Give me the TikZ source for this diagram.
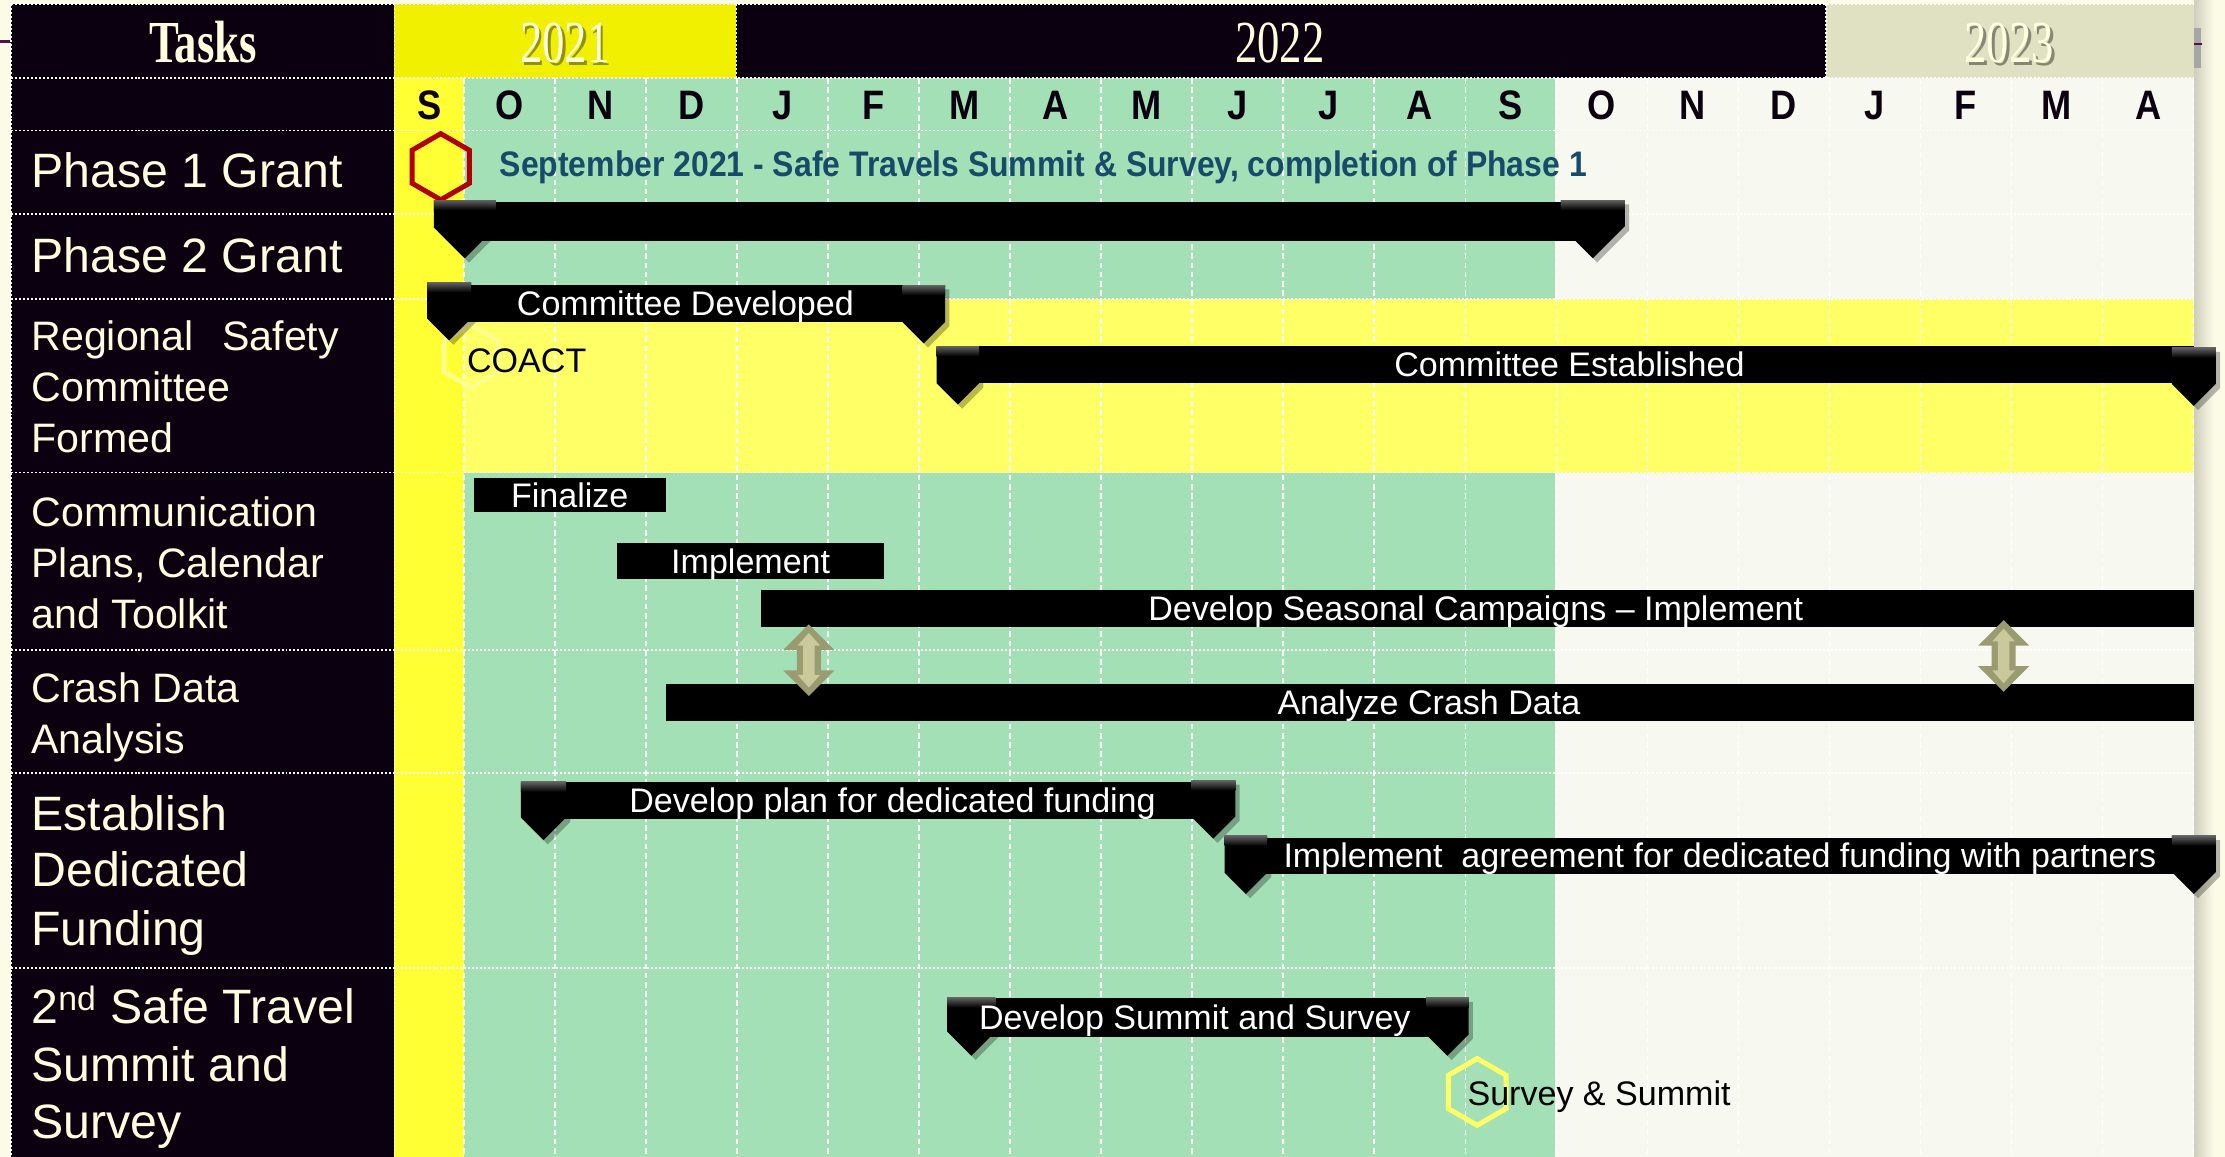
\documentclass[tikz,border=0pt]{standalone}
\usepackage{fontspec}
\setmainfont{Liberation Sans}
\newfontfamily\yearfont{Liberation Serif}

\definecolor{pagebg}{RGB}{251,251,230}
\definecolor{taskbg}{RGB}{10,0,16}
\definecolor{yrone}{RGB}{240,240,0}
\definecolor{yrthree}{RGB}{224,224,194}
\definecolor{scol}{RGB}{255,255,51}
\definecolor{regrow}{RGB}{255,255,102}
\definecolor{gantgreen}{RGB}{163,224,181}
\definecolor{offwhite}{RGB}{247,248,240}
\definecolor{creamtxt}{RGB}{255,255,224}
\definecolor{ink}{RGB}{10,0,16}
\definecolor{noteblue}{RGB}{24,74,106}
\definecolor{olivedark}{RGB}{155,155,114}
\definecolor{olivelight}{RGB}{201,201,155}
\definecolor{hexred}{RGB}{176,0,0}
\definecolor{hexyellow}{RGB}{255,255,102}
\definecolor{edgepurple}{RGB}{80,20,70}

\tikzset{
  hgrid/.style={white, line width=1.3pt, dash pattern=on 1.4pt off 1.4pt},
  vgrid/.style={white, line width=1.2pt, dash pattern=on 4pt off 2.5pt},
  month/.style={anchor=base, inner sep=0pt, text=ink, font=\fontsize{29}{30}\selectfont\bfseries, xscale=.88},
  yearlbl/.style={anchor=base, inner sep=0pt, text=creamtxt, font=\yearfont\fontsize{42}{46}\selectfont, xscale=.75},
  yearshadow/.style={yearlbl, text=black, opacity=.4},
  tasklbl/.style={anchor=base west, inner sep=0pt, text=creamtxt},
  tasklg/.style={tasklbl, font=\fontsize{34}{40}\selectfont},
  tasksm/.style={tasklbl, font=\fontsize{29}{34}\selectfont},
  barlbl/.style={anchor=base, inner sep=0pt, text=white, font=\fontsize{24}{28}\selectfont},
  plainlbl/.style={anchor=base west, inner sep=0pt, text=black, font=\fontsize{24}{28}\selectfont},
  bar/.style={fill=black},
  hexring/.style={line width=3.5pt, line join=miter},
}

% milestone flag: centre x, top y, width
\newcommand\milestone[3]{%
  \pgfmathsetmacro\mhw{#3/2}%
  \pgfmathsetmacro\mleft{#1-\mhw}%
  \pgfmathsetmacro\mright{#1+\mhw}%
  \pgfmathsetmacro\mside{#2+41-\mhw}%
  \pgfmathsetmacro\mtip{#2+41}%
  \fill[black, opacity=.28] ({\mleft+3},{#2+3}) -- ({\mright+3},{#2+3}) -- ({\mright+3},{\mside+3})
      -- ({#1+3},{\mtip+3}) -- ({\mleft+3},{\mside+3}) -- cycle;
  \fill[black] (\mleft,#2) -- (\mright,#2) -- (\mright,\mside) -- (#1,\mtip) -- (\mleft,\mside) -- cycle;
  \shade[top color=black!62, bottom color=black] (\mleft,#2) rectangle (\mright,{#2+7});
}

% two-headed olive arrow: centre x, top y, bottom y
\newcommand\dblarrow[3]{%
  \fill[olivedark] (#1,#2) -- ({#1+18},{#2+18}) -- ({#1+8.5},{#2+18}) -- ({#1+8.5},{#3-18})
     -- ({#1+18},{#3-18}) -- (#1,#3) -- ({#1-18},{#3-18}) -- ({#1-8.5},{#3-18})
     -- ({#1-8.5},{#2+18}) -- ({#1-18},{#2+18}) -- cycle;
  \fill[olivelight] (#1,{#2+6}) -- ({#1+8},{#2+15}) -- ({#1+4},{#2+15}) -- ({#1+4},{#3-15})
     -- ({#1+8},{#3-15}) -- (#1,{#3-6}) -- ({#1-8},{#3-15}) -- ({#1-4},{#3-15})
     -- ({#1-4},{#2+15}) -- ({#1-8},{#2+15}) -- cycle;
}

\begin{document}
\begin{tikzpicture}[x=1pt, y=-1pt]
\useasboundingbox (0,0) rectangle (1568,815);
\fill[pagebg] (0,0) rectangle (1568,815);
\shade[left color=black!18!pagebg, right color=pagebg] (1546,0) rectangle (1560,815);

\def\xs{327}
\def\cw{64.15}

% ---- backgrounds ----
\fill[taskbg] (8,3) rectangle (278,815);
\fill[yrone] (278,3) rectangle (519,55);
\fill[taskbg] (519,3) rectangle (1287,55);
\fill[yrthree] (1287,3) rectangle (1546,55);
\fill[scol] (278,55) rectangle (327,815);
\fill[gantgreen] (327,55) rectangle (1096,815);
\fill[offwhite] (1096,55) rectangle (1546,815);
\fill[regrow] (327,211) rectangle (1546,333);

% small edge marks
\draw[edgepurple, line width=2pt] (0,29) -- (8,29);
\fill[black!35] (1546,20) rectangle (1551,48);
\draw[edgepurple, line width=2pt] (1546,31) -- (1552,31);

% ---- grid ----
\foreach \k in {0,...,19}
  \draw[vgrid] ({\xs+\k*\cw},55) -- ({\xs+\k*\cw},815);
\foreach \y in {3,55,92,151,211,333,458,545,682}
  \draw[hgrid] (8,\y) -- (1546,\y);
\draw[hgrid] (8,3) -- (8,815);
\draw[hgrid] (278,3) -- (278,815);
\draw[hgrid] (519,3) -- (519,55);
\draw[hgrid] (1287,3) -- (1287,55);

% ---- header ----
\node[yearlbl, font=\yearfont\bfseries\fontsize{42}{46}\selectfont] (tasks) at (143,44) {Tasks};
\node[yearshadow] (y21s) at (400,46) {2021};
\node[yearlbl] (y21) at (398,44) {2021};
\node[yearlbl] (y22) at (902,44) {2022};
\node[yearshadow] (y23s) at (1418,46) {2023};
\node[yearlbl] (y23) at (1416,44) {2023};

\node[month] (mS) at (302.5,84) {S};
\foreach \m [count=\i from 0] in {O,N,D,J,F,M,A,M,J,J,A,S,O,N,D,J,F,M,A}
  \node[month] (m\i) at ({\xs+(\i+0.5)*\cw},84) {\m};

% ---- task names ----
\node[tasklg] (t1) at (22,132) {Phase 1 Grant};
\node[tasklg] (t2) at (22,192) {Phase 2 Grant};
\node[tasksm] (t3a) at (22,247) {Regional\hspace{20pt}Safety};
\node[tasksm] (t3b) at (22,283) {Committee};
\node[tasksm] (t3c) at (22,319) {Formed};
\node[tasksm] (t4a) at (22,371) {Communication};
\node[tasksm] (t4b) at (22,407) {Plans, Calendar};
\node[tasksm] (t4c) at (22,443) {and Toolkit};
\node[tasksm] (t5a) at (22,495) {Crash Data};
\node[tasksm] (t5b) at (22,531) {Analysis};
\node[tasklg] (t6a) at (22,585) {Establish};
\node[tasklg] (t6b) at (22,625) {Dedicated};
\node[tasklg] (t6c) at (22,666) {Funding};
\node[tasklg] (t7a) at (22,721) {2\textsuperscript{nd} Safe Travel};
\node[tasklg] (t7b) at (22,762) {Summit and};
\node[tasklg] (t7c) at (22,802) {Survey};

% ---- Phase 1 ----
\coordinate (hexA) at (310.6,117.5);
\draw[hexring, hexred] (hexA) +(90:23.3) -- +(30:23.3) -- +(-30:23.3) -- +(-90:23.3)
   -- +(-150:23.3) -- +(150:23.3) -- cycle;
\node[anchor=base west, inner sep=0pt, text=noteblue, xscale=.9,
      font=\fontsize{25}{28}\selectfont\bfseries] (p1note) at (352,124.5)
  {September 2021 - Safe Travels Summit \& Survey, completion of Phase 1};

% ---- Phase 2 ----
\fill[bar] (327,142) rectangle (1123,170);
\milestone{327.5}{141}{43.5}
\milestone{1122.5}{141}{45}

% ---- Regional Safety Committee ----
\coordinate (hexB) at (332,251);
\draw[hexring, white!25!regrow] (hexB) +(90:22) -- +(30:22) -- +(-30:22) -- +(-90:22)
   -- +(-150:22) -- +(150:22) -- cycle;
\fill[bar] (316,201) rectangle (651,227);
\milestone{316.5}{199}{31}
\milestone{651}{201}{30}
\node[barlbl] (cdev) at (483,222.5) {Committee Developed};
\node[plainlbl] (coact) at (329,262.5) {COACT};

\fill[bar] (675,244) rectangle (1546,270);
\milestone{675}{244}{30}
\milestone{1546}{245}{31}
\node[barlbl] (cest) at (1106,265.5) {Committee Established};

% ---- Communication plans ----
\fill[bar] (334,337) rectangle (469,361);
\node[barlbl] (fin) at (401.5,357.5) {Finalize};
\fill[bar] (435,383) rectangle (623,408);
\node[barlbl] (impl) at (529,404) {Implement};
\fill[bar] (536,416) rectangle (1546,442);
\node[barlbl] (seas) at (1040,437.5) {Develop Seasonal Campaigns -- Implement};

% ---- Crash data ----
\fill[bar] (469,482) rectangle (1546,508);
\node[barlbl] (crash) at (1007,503.5) {Analyze Crash Data};
\dblarrow{570}{440}{490.5}
\dblarrow{1412}{437}{487.5}

% ---- Dedicated funding ----
\fill[bar] (383,551) rectangle (855,577);
\milestone{383}{551}{32}
\milestone{855}{550}{31}
\node[barlbl] (fplan) at (629,572.5) {Develop plan for dedicated funding};

\fill[bar] (878,590.5) rectangle (1546,616);
\milestone{878}{589}{30}
\milestone{1546}{589}{31}
\node[barlbl] (fagr) at (1212,611.5) {Implement \ agreement for dedicated funding with partners};

% ---- 2nd summit ----
\fill[bar] (684,703) rectangle (1020,730.5);
\milestone{684.5}{703}{34}
\milestone{1020}{703}{30}
\node[barlbl] (sdev) at (842,725.5) {Develop Summit and Survey};

\coordinate (hexC) at (1041,769.5);
\draw[hexring, hexyellow] (hexC) +(90:23.5) -- +(30:23.5) -- +(-30:23.5) -- +(-90:23.5)
   -- +(-150:23.5) -- +(150:23.5) -- cycle;
\node[plainlbl] (ssum) at (1034,779) {Survey \& Summit};
\end{tikzpicture}
\end{document}
